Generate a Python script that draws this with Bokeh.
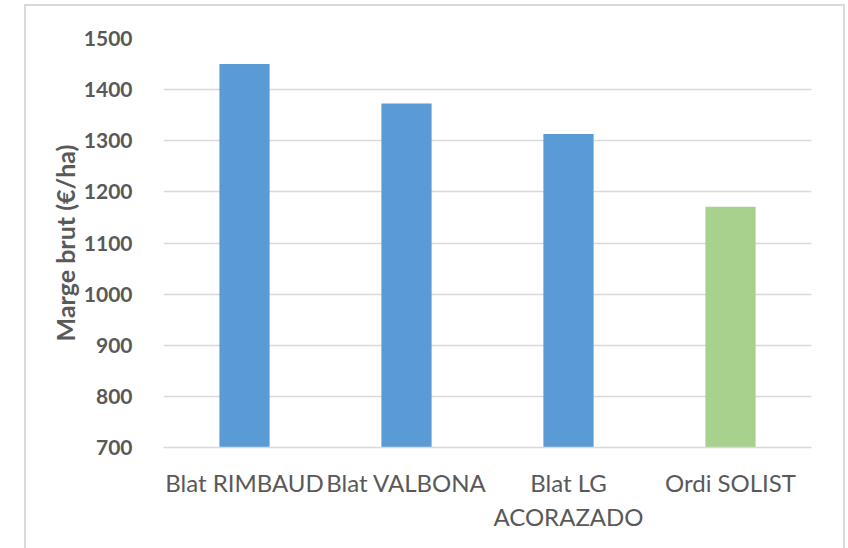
from bokeh.plotting import figure
from bokeh.models import Range1d, FixedTicker, ColumnDataSource
from bokeh.embed import file_html
from bokeh.resources import INLINE

categories = ["Blat RIMBAUD", "Blat VALBONA", "Blat LG\nACORAZADO", "Ordi SOLIST"]
values = [1450, 1373, 1313, 1171]
colors = ["#5B9BD5", "#5B9BD5", "#5B9BD5", "#A9D18E"]
y_ticks = [700, 800, 900, 1000, 1100, 1200, 1300, 1400, 1500]
y_title = "Marge brut (€/ha)"

src = ColumnDataSource(dict(cat=categories, val=values, color=colors))

p = figure(x_range=categories, y_range=Range1d(700, 1500),
           width=821, height=544, output_backend="svg", toolbar_location=None,
           min_border_left=137, min_border_right=36, min_border_top=32, min_border_bottom=103)
p.margin = (4, 0, 0, 24)
p.styles = {"border-top": "2px solid #D9D9D9", "border-left": "2px solid #D9D9D9",
            "border-right": "2px solid #D9D9D9"}
p.outline_line_color = None
p.background_fill_color = "white"
p.border_fill_color = "white"

p.vbar(x="cat", top="val", bottom=700, width=0.31, fill_color="color", line_color=None, source=src)

p.ygrid.grid_line_color = "#D9D9D9"
p.ygrid.grid_line_width = 1.5
p.xgrid.grid_line_color = None

p.yaxis.ticker = FixedTicker(ticks=y_ticks)
p.yaxis.axis_line_color = None
p.yaxis.major_tick_line_color = None
p.yaxis.minor_tick_line_color = None
p.yaxis.major_label_standoff = 25
p.yaxis.major_label_text_font = "Lato"
p.yaxis.major_label_text_font_style = "bold"
p.yaxis.major_label_text_font_size = "21px"
p.yaxis.major_label_text_color = "#595959"
p.yaxis.axis_label = y_title
p.yaxis.axis_label_text_font = "Lato"
p.yaxis.axis_label_text_font_style = "bold"
p.yaxis.axis_label_text_font_size = "25px"
p.yaxis.axis_label_text_color = "#595959"
p.yaxis.axis_label_standoff = 1

p.xaxis.axis_line_color = "#D9D9D9"
p.xaxis.axis_line_width = 1.5
p.xaxis.major_tick_line_color = None
p.xaxis.minor_tick_line_color = None
p.xaxis.major_label_standoff = 14
p.xaxis.major_label_text_font = "Lato"
p.xaxis.major_label_text_font_size = "24px"
p.xaxis.major_label_text_color = "#595959"

open("out.html", "w").write(file_html(p, INLINE))
